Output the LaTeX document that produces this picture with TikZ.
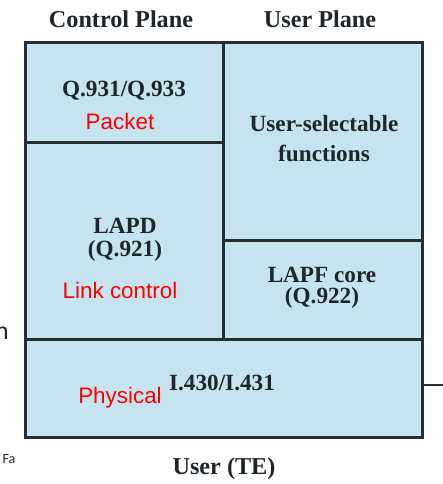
\documentclass[tikz,border=0pt]{standalone}
\usepackage{fontspec}
\setmainfont{Liberation Serif}
\newfontfamily\redsans{Liberation Sans}
\newfontfamily\calib{Carlito}
\definecolor{boxfill}{HTML}{C6E4EF}
\definecolor{boxline}{HTML}{262E33}
\definecolor{ink}{HTML}{1E262B}
\definecolor{redtxt}{HTML}{FF0000}
\tikzset{
  region/.style={draw=boxline, fill=boxfill, line width=2.7bp, inner sep=0pt, anchor=north west},
  bold/.style={font=\fontsize{23.3}{24}\selectfont\bfseries, text=ink, inner sep=0pt, anchor=base},
  head/.style={font=\fontsize{24.3}{25}\selectfont\bfseries, text=ink, inner sep=0pt, anchor=base},
  redlbl/.style={font=\redsans\fontsize{22.5}{24}\selectfont, text=redtxt, inner sep=0pt, anchor=base},
  stub/.style={draw=boxline, line width=2bp}
}
\begin{document}
\begin{tikzpicture}[x=1bp,y=-1bp]
\useasboundingbox (0,0) rectangle (443,484);
\clip (0,0) rectangle (443,484);
% regions
\node[region, minimum width=198bp, minimum height=100bp] (qbox) at (24,41) {};
\node[region, minimum width=198bp, minimum height=197bp] (lapd) at (24,141) {};
\node[region, minimum width=199bp, minimum height=198bp] (usel) at (222,41) {};
\node[region, minimum width=199bp, minimum height=99bp] (lapf) at (222,239) {};
\node[region, minimum width=397bp, minimum height=98bp] (phys) at (24,338) {};
\coordinate (stubend) at (443,385);
\draw[stub] (phys.east |- stubend) -- (stubend);
% headings
\node[head] (cp) at (121,28) {Control Plane};
\node[head] (up) at (320,28) {User Plane};
\node[head] (te) at (224,474) {User (TE)};
% texts
\node[bold] (q931) at (124,97) {Q.931/Q.933};
\node[redlbl] (packet) at (120,129.5) {Packet};
\node[bold] (us1) at (324,132) {User-selectable};
\node[bold] (us2) at (324,162) {functions};
\node[bold] (lapd1) at (125,233) {LAPD};
\node[bold] (lapd2) at (125,256) {(Q.921)};
\node[redlbl] (link) at (120,298) {Link control};
\node[bold] (lapf1) at (322,282) {LAPF core};
\node[bold] (lapf2) at (322,303) {(Q.922)};
\node[bold] (i430) at (222,390) {I.430/I.431};
\node[redlbl] (physical) at (120,403) {Physical};
% stray slide text
\node[font=\calib\fontsize{26}{28}\selectfont, text=ink, inner sep=0pt, anchor=base east] (ncut) at (9,339) {n};
\node[font=\calib\fontsize{14}{15}\selectfont, text=ink, inner sep=0pt, anchor=base west] (fa) at (2.5,463) {Fa};
\end{tikzpicture}
\end{document}
